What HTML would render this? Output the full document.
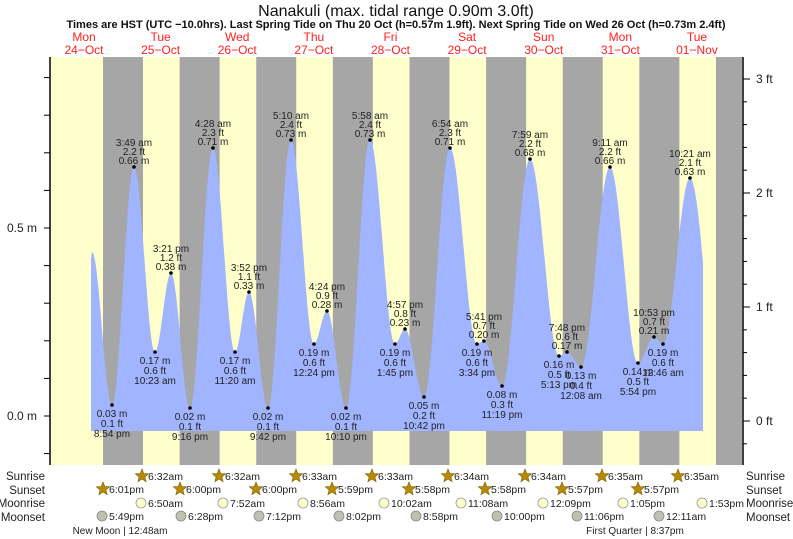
<!DOCTYPE html>
<html><head><meta charset="utf-8"><style>
body{margin:0;background:#fff;}
svg{display:block;font-family:"Liberation Sans",Arial,sans-serif;}
</style></head><body>
<svg id="s" width="793" height="539" viewBox="0 0 793 539" xmlns="http://www.w3.org/2000/svg">
<rect x="50" y="57" width="692" height="408" fill="#ffffcc"/>
<g id="bands" fill="#a6a6a6"></g>
<path id="tide" fill="#a0b4ff" d=""/>
<g id="dots" fill="#000"></g>
<g id="lbl" font-size="10" fill="#222" text-anchor="middle"></g>
<line x1="50" y1="57" x2="50" y2="465" stroke="#000" stroke-width="1.5"/>
<line x1="743" y1="57" x2="743" y2="465" stroke="#000" stroke-width="1.5"/>
<g id="ticks" stroke="#000" stroke-width="1"></g>
<g font-size="12" fill="#222">
<text x="37" y="232" text-anchor="end">0.5 m</text>
<text x="37" y="420" text-anchor="end">0.0 m</text>
<text x="756" y="83">3 ft</text>
<text x="756" y="197">2 ft</text>
<text x="756" y="311">1 ft</text>
<text x="756" y="425">0 ft</text>
</g>
<text x="396" y="16" text-anchor="middle" font-size="16" fill="#111">Nanakuli (max. tidal range 0.90m 3.0ft)</text>
<text x="396" y="28" text-anchor="middle" font-size="11" font-weight="bold" fill="#111">Times are HST (UTC −10.0hrs). Last Spring Tide on Thu 20 Oct (h=0.57m 1.9ft). Next Spring Tide on Wed 26 Oct (h=0.73m 2.4ft)</text>
<g id="days" font-size="12" fill="#ff2020" text-anchor="middle"></g>
<g font-size="11.5" fill="#222">
<text x="45" y="480" text-anchor="end">Sunrise</text>
<text x="45" y="494" text-anchor="end">Sunset</text>
<text x="45" y="507" text-anchor="end">Moonrise</text>
<text x="45" y="521" text-anchor="end">Moonset</text>
<text x="746" y="480">Sunrise</text>
<text x="746" y="494">Sunset</text>
<text x="746" y="507">Moonrise</text>
<text x="746" y="521">Moonset</text>
</g>
<g id="astro" font-size="10.5" fill="#222"></g>
<text x="120" y="534" text-anchor="middle" font-size="10" fill="#222">New Moon | 12:48am</text>
<text x="635" y="534" text-anchor="middle" font-size="10" fill="#222">First Quarter | 8:37pm</text>
</svg>
<script>
var NS="http://www.w3.org/2000/svg";
function el(p,t,a,txt){var e=document.createElementNS(NS,t);for(var k in a)e.setAttribute(k,a[k]);if(txt!=null)e.textContent=txt;document.getElementById(p).appendChild(e);return e;}
for(var i=0;i<9;i++){var x=103+76.62*i;var w=Math.min(40,742-x);el("bands","rect",{x:x,y:57,width:w,height:408});}
var days=[["Mon","24\u2212Oct"],["Tue","25\u2212Oct"],["Wed","26\u2212Oct"],["Thu","27\u2212Oct"],["Fri","28\u2212Oct"],["Sat","29\u2212Oct"],["Sun","30\u2212Oct"],["Mon","31\u2212Oct"],["Tue","01\u2212Nov"]];
days.forEach(function(d,i){var x=84+76.62*i;el("days","text",{x:x,y:41},d[0]);el("days","text",{x:x,y:54},d[1]);});
// extrema: x,y,type,m,ft,time
var E=[[112,405,"L","0.03 m","0.1 ft","8:54 pm"],[134,167,"H","0.66 m","2.2 ft","3:49 am"],[155,352,"L","0.17 m","0.6 ft","10:23 am"],[171,273,"H","0.38 m","1.2 ft","3:21 pm"],[190,408,"L","0.02 m","0.1 ft","9:16 pm"],[213,148,"H","0.71 m","2.3 ft","4:28 am"],[235,352,"L","0.17 m","0.6 ft","11:20 am"],[249,292,"H","0.33 m","1.1 ft","3:52 pm"],[268,408,"L","0.02 m","0.1 ft","9:42 pm"],[291,140,"H","0.73 m","2.4 ft","5:10 am"],[314,344,"L","0.19 m","0.6 ft","12:24 pm"],[327,311,"H","0.28 m","0.9 ft","4:24 pm"],[346,408,"L","0.02 m","0.1 ft","10:10 pm"],[370,140,"H","0.73 m","2.4 ft","5:58 am"],[395,344,"L","0.19 m","0.6 ft","1:45 pm"],[405,329,"H","0.23 m","0.8 ft","4:57 pm"],[424,397,"L","0.05 m","0.2 ft","10:42 pm"],[450,148,"H","0.71 m","2.3 ft","6:54 am"],[477,344,"L","0.19 m","0.6 ft","3:34 pm"],[484,341,"H","0.20 m","0.7 ft","5:41 pm"],[502,386,"L","0.08 m","0.3 ft","11:19 pm"],[530,159,"H","0.68 m","2.2 ft","7:59 am"],[559,356,"L","0.16 m","0.5 ft","5:13 pm"],[567,352,"H","0.17 m","0.6 ft","7:48 pm"],[581,367,"L","0.13 m","0.4 ft","12:08 am"],[610,167,"H","0.66 m","2.2 ft","9:11 am"],[638,363,"L","0.14 m","0.5 ft","5:54 pm"],[654,337,"H","0.21 m","0.7 ft","10:53 pm"],[663,344,"L","0.19 m","0.6 ft","12:46 am"],[690,178,"H","0.63 m","2.1 ft","10:21 am"]];
var pts=[[80,330]].concat(E.map(function(e){return [e[0],e[1]];})).concat([[716,420]]);
var d="M91,431 L91,258 ";
// first segment from start peak (~92,252)
var P=[[92,252]].concat(E.map(function(e){return [e[0],e[1]];}));
d+="L92,252 ";
for(var i=1;i<P.length;i++){var a=P[i-1],b=P[i],dx=b[0]-a[0];d+="C"+(a[0]+dx*0.36)+","+a[1]+" "+(b[0]-dx*0.36)+","+b[1]+" "+b[0]+","+b[1]+" ";}
var last=P[P.length-1];d+="C"+(last[0]+5)+","+last[1]+" 700,225 703,263 L703,431 Z";
document.getElementById("tide").setAttribute("d",d);
E.forEach(function(e){el("dots","circle",{cx:e[0],cy:e[1],r:1.8});
 if(e[2]=="H"){el("lbl","text",{x:e[0],y:e[1]-3},e[3]);el("lbl","text",{x:e[0],y:e[1]-12},e[4]);el("lbl","text",{x:e[0],y:e[1]-21},e[5]);}
 else{el("lbl","text",{x:e[0],y:e[1]+12},e[3]);el("lbl","text",{x:e[0],y:e[1]+22},e[4]);el("lbl","text",{x:e[0],y:e[1]+32},e[5]);}});
// left ticks every 0.1m
for(var k=-1;k<=9;k++){var y=416-37.6*k;el("ticks","line",{x1:44,y1:y,x2:50,y2:y});}
// right ticks every 0.2ft
for(var k=-1;k<=16;k++){var y=421-22.8*k;if(y<58)continue;var L=(k%5==0)?7:4;el("ticks","line",{x1:743,y1:y,x2:743+L,y2:y});}
function star(cx,cy){var s="";for(var i=0;i<10;i++){var r=i%2?3:7,an=-Math.PI/2+i*Math.PI/5;s+=(cx+r*Math.cos(an)).toFixed(1)+","+(cy+r*Math.sin(an)).toFixed(1)+" ";}el("astro","polygon",{points:s,fill:"#b88a00",stroke:"#7a5a00","stroke-width":0.6});}
var sr=[142,219,296,372,448,525,602,678],srt=["6:32am","6:32am","6:33am","6:33am","6:34am","6:34am","6:35am","6:35am"];
var ss=[103,180,256,332,409,485,562,638],sst=["6:01pm","6:00pm","6:00pm","5:59pm","5:58pm","5:58pm","5:57pm","5:57pm"];
var mr=[141,223,303,384,461,543,623,702],mrt=["6:50am","7:52am","8:56am","10:02am","11:08am","12:09pm","1:05pm","1:53pm"];
var ms=[102,181,259,339,416,497,577,659],mst=["5:49pm","6:28pm","7:12pm","8:02pm","8:58pm","10:00pm","11:06pm","12:11am"];
for(var i=0;i<8;i++){
 star(sr[i],476);el("astro","text",{x:sr[i]+6,y:480},srt[i]);
 star(ss[i],489);el("astro","text",{x:ss[i]+6,y:493},sst[i]);
 el("astro","circle",{cx:mr[i],cy:503,r:5,fill:"#ffffcc",stroke:"#999","stroke-width":0.8});el("astro","text",{x:mr[i]+7,y:507},mrt[i]);
 el("astro","circle",{cx:ms[i],cy:516,r:5,fill:"#c0c0b0",stroke:"#888","stroke-width":0.8});el("astro","text",{x:ms[i]+7,y:520},mst[i]);
}
</script>
</body></html>
